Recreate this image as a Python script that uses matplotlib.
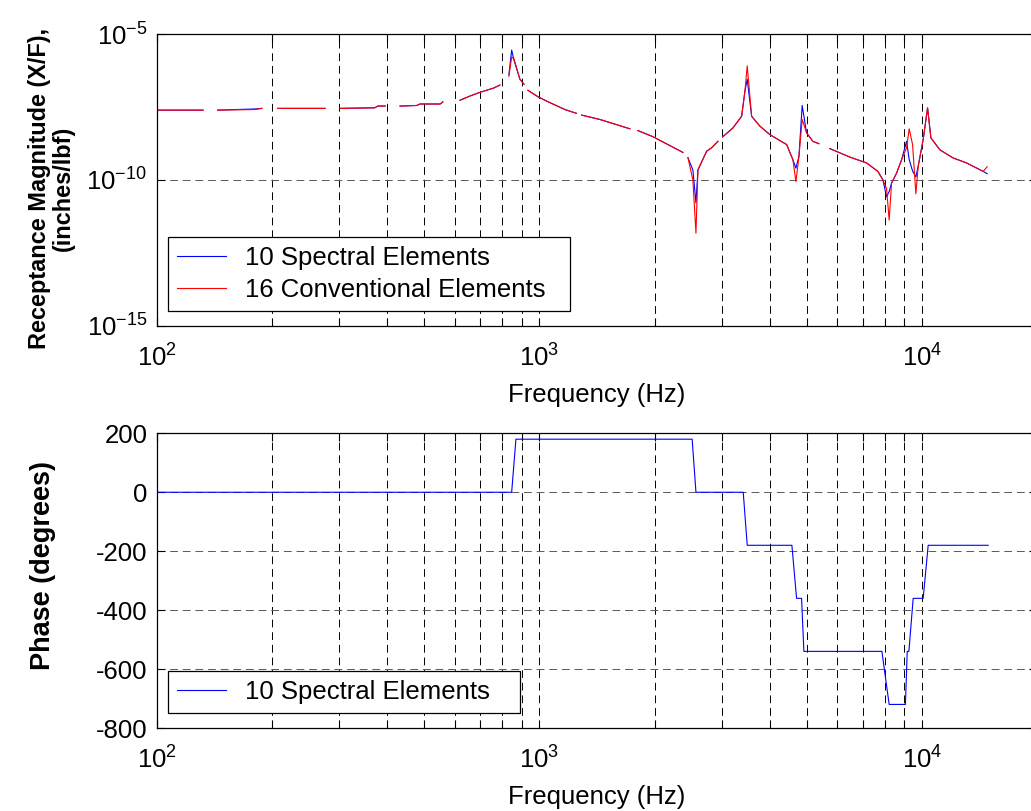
import numpy as np
import matplotlib
matplotlib.use("Agg")
import matplotlib.pyplot as plt
from matplotlib.ticker import LogLocator, NullLocator, NullFormatter, FixedLocator

plt.rcParams['font.family'] = ['Liberation Sans', 'DejaVu Sans']
plt.rcParams['mathtext.fontset'] = 'custom'
plt.rcParams['mathtext.rm'] = 'Liberation Sans'
plt.rcParams['mathtext.it'] = 'Liberation Sans'
plt.rcParams['axes.unicode_minus'] = False

nan = np.nan

# --- receptance magnitude (log10 of inches/lbf), NaN = gap in the trace ---
freq_mag = [100, 132, nan, 144, 180, 188, nan, 207, 275, nan, 301, 371, 378, 395, nan,
            432, 478, 487, 550, 559, nan, 620, 660, 699, 760, 788, nan,
            832, 846, 858, 889, 911, nan, 933, 991, 1044, 1166, 1250, nan,
            1289, 1439, 1724, nan, 1809, 1980, 2372, nan, 2445, 2519, 2566, 2597,
            2736, 2819, 2929, nan, 3012, 3206, 3378, 3446, 3494, 3588, 3772, 4005,
            4430, 4600, 4684, 4770, 4864, 4995, 5188, 5379, nan, 5748, 6483, 7168,
            7674, 7907, 8085, 8212, 8332, 8587, 8850, 9120, 9265, 9456, 9645, 9779,
            10078, 10349, 10557, 11144, 12073, 13087, 14465, 14817]

logmag_spectral = [-7.61, -7.61, nan, -7.61, -7.57, -7.55, nan, -7.55, -7.55, nan, -7.55, -7.53, -7.47, -7.47, nan,
                   -7.47, -7.45, -7.40, -7.40, -7.33, nan, -7.27, -7.12, -7.00, -6.85, -6.75, nan,
                   -6.40, -5.55, -5.90, -6.55, -6.72, nan, -6.93, -7.15, -7.30, -7.59, -7.72, nan,
                   -7.78, -7.93, -8.25, nan, -8.31, -8.52, -9.06, nan, -9.24, -9.66, -10.79, -9.66,
                   -9.02, -8.90, -8.68, nan, -8.53, -8.22, -7.82, -6.96, -6.55, -7.82, -8.16, -8.45,
                   -8.79, -9.31, -9.60, -9.20, -7.45, -8.39, -8.68, -8.76, nan, -8.93, -9.22, -9.42,
                   -9.71, -10.00, -10.58, -10.40, -10.11, -9.77, -9.31, -8.68, -9.30, -9.70, -9.90, -9.54,
                   -8.62, -7.53, -8.56, -8.97, -9.25, -9.42, -9.71, -9.79]

logmag_conventional = [-7.61, -7.61, nan, -7.61, -7.59, -7.55, nan, -7.55, -7.55, nan, -7.55, -7.53, -7.47, -7.47, nan,
                       -7.47, -7.45, -7.40, -7.40, -7.33, nan, -7.27, -7.12, -7.00, -6.85, -6.75, nan,
                       -6.45, -5.79, -5.85, -6.55, -6.72, nan, -6.93, -7.15, -7.30, -7.59, -7.72, nan,
                       -7.78, -7.93, -8.25, nan, -8.31, -8.52, -9.06, nan, -9.24, -10.0, -11.83, -9.66,
                       -9.02, -8.90, -8.68, nan, -8.53, -8.22, -7.82, -6.96, -6.09, -7.82, -8.16, -8.45,
                       -8.79, -9.31, -10.06, -9.20, -7.93, -8.39, -8.68, -8.76, nan, -8.93, -9.22, -9.42,
                       -9.71, -10.00, -10.30, -11.38, -10.11, -9.77, -9.31, -8.90, -8.25, -8.79, -10.48, -9.54,
                       -8.62, -7.53, -8.56, -8.97, -9.25, -9.42, -9.71, -9.55]

# --- phase (degrees) ---
freq_phase = [100, 846, 868, 2508, 2566, 3411, 3494, 4572, 4703, 4847, 4914,
              7861, 8212, 9057, 9156, 9248, 9490, 10078, 10387, 14906]
phase_spectral = [0, 0, 180, 180, 0, 0, -180, -180, -360, -360, -540,
                  -540, -720, -720, -540, -540, -360, -360, -180, -180]

label_spectral = '10 Spectral Elements'
label_conventional = '16 Conventional Elements'

fs = 18.5
W, H = 1031, 811
fig = plt.figure(figsize=(W / 100, H / 100), dpi=100)

left = 157 / W
width = (1037 - 157) / W
ax1 = fig.add_axes([left, 1 - 325.7 / H, width, (325.7 - 34) / H])
ax2 = fig.add_axes([left, 1 - 728 / H, width, (728 - 433.3) / H])

ax1.plot(freq_mag, 10 ** np.array(logmag_spectral), color='#0000ff', lw=0.8, label=label_spectral)
ax1.plot(freq_mag, 10 ** np.array(logmag_conventional), color='#ff0000', lw=0.8, label=label_conventional)
ax1.set_yscale('log')
ax1.set_ylim(1e-15, 1e-5)
ax1.yaxis.set_major_locator(FixedLocator([1e-15, 1e-10, 1e-5]))
ax1.yaxis.set_minor_locator(NullLocator())

ax2.plot(freq_phase, phase_spectral, color='#0000ff', lw=0.8, label=label_spectral)
ax2.set_ylim(-800, 200)
ax2.set_yticks(np.arange(-800, 201, 200))

# legend box widths (axes fraction) as in the original figure
legend_w = {ax1: 402 / 880, ax2: 352 / 880}

for ax in (ax1, ax2):
    ax.set_xscale('log')
    ax.set_xlim(100, 20000)
    ax.xaxis.set_major_locator(LogLocator(base=10, numticks=10))
    ax.xaxis.set_minor_locator(LogLocator(base=10, subs=np.arange(2, 10), numticks=20))
    ax.xaxis.set_minor_formatter(NullFormatter())
    ax.grid(True, which='both', axis='x', color='k', linestyle=(0, (8, 5)), linewidth=0.7)
    ax.grid(True, which='major', axis='y', color='0.35', linestyle=(0, (8, 5)), linewidth=0.7)
    ax.tick_params(which='both', direction='in', top=True, right=True, length=6, width=0.8)
    ax.tick_params(axis='x', which='major', labelsize=fs, pad=13.5)
    ax.tick_params(axis='y', labelsize=fs, pad=7)
    for s in ax.spines.values():
        s.set_linewidth(0.9)
    ax.set_xlabel('Frequency (Hz)', fontsize=fs, labelpad=8)
    leg = ax.legend(loc='lower left', bbox_to_anchor=(0.0125, 0.05, legend_w[ax], 0.1),
                    mode='expand', borderaxespad=0,
                    fontsize=fs, frameon=True, fancybox=False, edgecolor='k',
                    handlelength=1.9, handletextpad=0.72, borderpad=0.36, labelspacing=0.3,
                    framealpha=1)
    leg.get_frame().set_linewidth(0.9)

ax1.set_ylabel('Receptance Magnitude (X/F),\n(inches/lbf)', fontsize=16.9,
               fontweight='bold', linespacing=1.05)
ax1.yaxis.set_label_coords(-0.093, 0.472)
ax2.set_ylabel('Phase (degrees)', fontsize=19.5, fontweight='bold')
ax2.yaxis.set_label_coords(-0.115, 0.553)

fig.savefig('out.png', dpi=100)
